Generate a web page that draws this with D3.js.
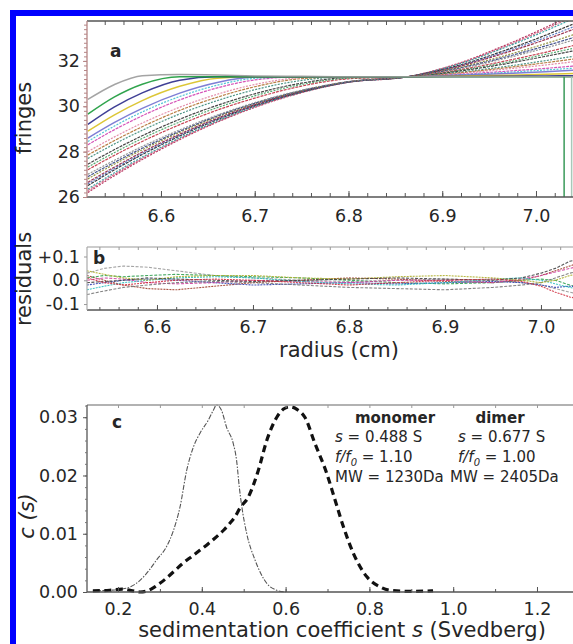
<!DOCTYPE html>
<html><head><meta charset="utf-8">
<script src="https://cdn.jsdelivr.net/npm/d3@7"></script>
<style>
body{margin:0;background:#fff;}
svg{display:block;}
text{font-family:"DejaVu Sans",sans-serif;fill:#262626;}
</style></head>
<body><svg id="chart" width="573" height="644"></svg>
<script>
// ---------------- DATA ----------------
// panel a: radial positions (cm) and fringe scans
const radiiA = [6.522, 6.55, 6.58, 6.62, 6.66, 6.70, 6.75, 6.80, 6.863, 6.92, 6.97, 7.01, 7.047];
const fringeScans = [
  [26.20, 26.93, 27.65, 28.53, 29.30, 29.95, 30.60, 31.06, 31.30, 31.93, 32.74, 33.47, 34.20],
  [26.28, 26.99, 27.70, 28.57, 29.32, 29.97, 30.61, 31.06, 31.30, 31.91, 32.69, 33.40, 34.10],
  [26.35, 27.06, 27.76, 28.61, 29.35, 29.99, 30.62, 31.06, 31.30, 31.89, 32.64, 33.32, 34.00],
  [26.50, 27.19, 27.87, 28.69, 29.41, 30.03, 30.64, 31.07, 31.30, 31.83, 32.51, 33.13, 33.75],
  [26.58, 27.25, 27.92, 28.73, 29.44, 30.05, 30.65, 31.07, 31.30, 31.80, 32.45, 33.03, 33.62],
  [26.65, 27.31, 27.98, 28.77, 29.47, 30.07, 30.66, 31.08, 31.30, 31.78, 32.39, 32.94, 33.50],
  [26.80, 27.44, 28.08, 28.85, 29.53, 30.11, 30.68, 31.08, 31.30, 31.73, 32.27, 32.76, 33.25],
  [26.90, 27.52, 28.15, 28.90, 29.57, 30.13, 30.69, 31.08, 31.30, 31.70, 32.20, 32.66, 33.12],
  [27.00, 27.61, 28.23, 28.96, 29.61, 30.16, 30.71, 31.09, 31.30, 31.67, 32.14, 32.57, 33.00],
  [27.20, 27.83, 28.45, 29.19, 29.83, 30.36, 30.89, 31.21, 31.30, 31.62, 32.02, 32.38, 32.75],
  [27.32, 27.95, 28.58, 29.31, 29.94, 30.46, 30.96, 31.24, 31.30, 31.59, 31.95, 32.29, 32.62],
  [27.45, 28.08, 28.70, 29.43, 30.04, 30.55, 31.02, 31.27, 31.30, 31.56, 31.89, 32.20, 32.50],
  [27.70, 28.33, 28.94, 29.66, 30.25, 30.73, 31.14, 31.30, 31.30, 31.51, 31.77, 32.01, 32.25],
  [27.85, 28.48, 29.10, 29.82, 30.40, 30.86, 31.22, 31.30, 31.30, 31.48, 31.71, 31.92, 32.12],
  [28.00, 28.64, 29.26, 29.96, 30.53, 30.96, 31.26, 31.30, 31.30, 31.45, 31.65, 31.82, 32.00],
  [28.30, 28.96, 29.58, 30.28, 30.81, 31.16, 31.30, 31.30, 31.30, 31.41, 31.55, 31.67, 31.80],
  [28.45, 29.12, 29.75, 30.43, 30.93, 31.23, 31.30, 31.30, 31.30, 31.39, 31.50, 31.60, 31.70],
  [28.60, 29.28, 29.91, 30.58, 31.05, 31.29, 31.30, 31.30, 31.30, 31.37, 31.45, 31.52, 31.60],
  [28.90, 29.61, 30.25, 30.88, 31.24, 31.30, 31.30, 31.30, 31.30, 31.33, 31.37, 31.41, 31.45],
  [29.20, 29.96, 30.59, 31.15, 31.30, 31.30, 31.30, 31.30, 31.30, 31.31, 31.32, 31.34, 31.35],
  [29.65, 30.40, 30.97, 31.30, 31.30, 31.30, 31.30, 31.30, 31.30, 31.30, 31.30, 31.30, 31.30],
  [30.30, 30.95, 31.35, 31.40, 31.38, 31.34, 31.32, 31.30, 31.30, 31.30, 31.30, 31.30, 31.30]
];
const scanColors = ["#b02050","#d06080","#2a9a9a","#222222","#5070c0","#902040","#8a8a30","#304080",
  "#888888","#c03040","#40a060","#333333","#3a8a7a","#b07030","#e080a0","#d040b0","#40c0d0",
  "#7070d0","#d8c020","#2a2a8a","#1a9a3a","#9a9a9a"];
const referenceRadius = [7.03, 7.038];
const plateauFringe = 31.3;

// panel b: residuals
const radiiB = [6.527, 6.545, 6.565, 6.59, 6.62, 6.66, 6.70, 6.75, 6.80, 6.85, 6.90, 6.95, 6.98, 7.0, 7.015, 7.03, 7.052];
const residualScans = [
  [0.03, 0.05, 0.06, 0.055, 0.04, 0.02, 0.01, 0.0, -0.005, 0.0, 0.005, 0.0, -0.01, -0.02, -0.035, -0.05, -0.07],
  [0.02, 0.0, -0.02, -0.035, -0.04, -0.025, -0.01, 0.0, 0.01, 0.005, -0.005, -0.01, 0.0, 0.02, 0.04, 0.06, 0.09],
  [0.01, 0.02, 0.015, 0.02, 0.025, 0.02, 0.015, 0.01, 0.0, -0.01, -0.015, -0.01, 0.0, 0.005, 0.0, -0.02, -0.04],
  [-0.02, -0.01, 0.0, 0.005, 0.0, -0.01, -0.02, -0.015, -0.01, -0.015, -0.01, -0.005, -0.01, -0.02, -0.03, -0.025, -0.03],
  [0.0, 0.01, 0.005, -0.01, -0.015, -0.01, 0.0, -0.005, -0.01, 0.0, 0.0, -0.01, 0.005, 0.02, 0.035, 0.05, 0.07],
  [-0.04, -0.025, -0.01, 0.0, 0.01, 0.015, 0.01, -0.005, -0.015, -0.02, -0.01, 0.005, 0.01, 0.0, -0.015, -0.03, -0.05],
  [-0.06, -0.045, -0.03, -0.02, -0.01, -0.005, -0.01, -0.02, -0.03, -0.035, -0.04, -0.03, -0.02, -0.01, 0.01, 0.03, 0.05],
  [0.04, 0.025, 0.01, 0.0, 0.015, 0.02, 0.02, 0.01, 0.005, 0.015, 0.02, 0.01, 0.0, -0.01, 0.0, 0.02, 0.04],
  [-0.01, -0.005, 0.0, 0.01, 0.005, 0.0, -0.005, 0.0, 0.005, 0.01, 0.005, 0.0, 0.01, 0.03, 0.05, 0.08, 0.10],
  [0.01, -0.01, -0.02, -0.01, 0.0, 0.005, 0.0, -0.01, -0.02, -0.01, 0.0, 0.005, -0.005, -0.025, -0.05, -0.07, -0.09]
];
const residualColors = ["#9a9a9a","#a04030","#30a050","#3040b0","#d040a0","#30c0c0","#777777","#b0b030","#444444","#d03040"];

// panel c: c(s) distributions
const sMono = [0.14,0.18,0.21,0.23,0.2525,0.275,0.292,0.316,0.332,0.348,0.364,0.38,0.396,0.4155,0.4275,0.4355,0.447,0.459,0.475,0.483,0.4895,0.495,0.507,0.527,0.555,0.579,0.60];
const cMono = [0.0002,0.0003,0.0005,0.0009,0.0020,0.0038,0.0055,0.0078,0.0105,0.0146,0.0209,0.0249,0.0273,0.0295,0.0312,0.0321,0.0312,0.0283,0.0255,0.0226,0.0180,0.0149,0.0101,0.0055,0.0015,0.0003,0.0000];
const sDimer = [0.14,0.18,0.21,0.235,0.2525,0.27,0.284,0.30,0.316,0.336,0.356,0.376,0.396,0.4155,0.4355,0.452,0.467,0.48,0.491,0.511,0.535,0.555,0.579,0.595,0.610,0.628,0.646,0.670,0.698,0.718,0.738,0.762,0.794,0.825,0.849,0.90,0.952];
const cDimer = [0.0002,0.0003,0.0005,0.0002,0.0000,0.0002,0.0007,0.0015,0.0024,0.0037,0.0050,0.0061,0.0072,0.0083,0.0095,0.0106,0.0118,0.0130,0.0144,0.0163,0.0209,0.0260,0.0300,0.0314,0.0318,0.0313,0.0300,0.0255,0.0204,0.0158,0.0112,0.0066,0.0026,0.0009,0.0003,0.0001,0.0002];

// tick labels
const ticksRadius = [6.6, 6.7, 6.8, 6.9, 7.0];
const ticksFringe = [26, 28, 30, 32];
const ticksResidual = [-0.1, 0.0, 0.1];
const ticksResidualLabels = ["-0.1", "0.0", "+0.1"];
const ticksS = [0.2, 0.4, 0.6, 0.8, 1.0, 1.2];
const ticksC = [0.00, 0.01, 0.02, 0.03];

// ---------------- DRAW ----------------
const svg = d3.select("#chart");
const defs = svg.append("defs");
function clip(id, x0, y0, x1, y1){
  defs.append("clipPath").attr("id", id).append("rect")
    .attr("x", x0).attr("y", y0).attr("width", x1 - x0).attr("height", y1 - y0);
}
const TICK = 17.5, TITLE = 21;

// blue border
svg.append("rect").attr("x",10).attr("y",10).attr("width",6).attr("height",634).attr("fill","#0000ff");
svg.append("rect").attr("x",10).attr("y",10).attr("width",563).attr("height",6).attr("fill","#0000ff");

function styleAxis(g, color){
  g.select(".domain").remove();
  g.selectAll("line").attr("stroke", color).attr("stroke-width", 1);
  g.selectAll("text").style("font-family", '"DejaVu Sans",sans-serif').style("font-size", TICK + "px").attr("fill", "#262626");
}

// ===== Panel a =====
const A = {l:87, t:21, r:590, b:197};
const xA = d3.scaleLinear().domain([6.5211, 7.0576]).range([A.l, A.r]);
const yA = d3.scaleLinear().domain([26, 33.76]).range([A.b, A.t]);
clip("clipA", A.l, A.t, A.r, A.b);

const gA = svg.append("g").attr("clip-path", "url(#clipA)");
const lineA = d3.line().x((d,i) => xA(radiiA[i])).y(d => yA(d)).curve(d3.curveMonotoneX);
fringeScans.forEach((scan, k) => {
  gA.append("path").attr("d", lineA(scan)).attr("fill","none")
    .attr("stroke", scanColors[k]).attr("stroke-width", k >= 17 ? 1.5 : 1.2)
    .attr("stroke-dasharray", k >= 17 ? null : (k % 2 ? "3,1" : "2,1.3"))
    .attr("opacity", 0.9);
});
referenceRadius.forEach((r, i) => {
  gA.append("line").attr("x1", xA(r)).attr("x2", xA(r))
    .attr("y1", yA(plateauFringe)).attr("y2", A.b)
    .attr("stroke", i === 0 ? "#3a9a5a" : "#a8c8b8").attr("stroke-width", 1.5);
});

// frame a
svg.append("line").attr("x1",A.l).attr("x2",A.r).attr("y1",A.t).attr("y2",A.t).attr("stroke","#555").attr("stroke-width",1.3);
svg.append("line").attr("x1",A.l).attr("x2",A.r).attr("y1",A.b).attr("y2",A.b).attr("stroke","#555").attr("stroke-width",1.3);
svg.append("line").attr("x1",A.l).attr("x2",A.l).attr("y1",A.t).attr("y2",A.b).attr("stroke","#b58585").attr("stroke-width",1.3);

// minor ticks a
svg.append("g").attr("transform",`translate(0,${A.b})`)
  .call(d3.axisBottom(xA).ticks(26).tickSizeInner(-4).tickSizeOuter(0).tickFormat(""))
  .call(g => styleAxis(g, "#555"));
svg.append("g").attr("transform",`translate(0,${A.t})`)
  .call(d3.axisTop(xA).ticks(26).tickSizeInner(-4).tickSizeOuter(0).tickFormat(""))
  .call(g => styleAxis(g, "#555"));
svg.append("g").attr("transform",`translate(${A.l},0)`)
  .call(d3.axisLeft(yA).ticks(30).tickSizeInner(3).tickSizeOuter(0).tickFormat(""))
  .call(g => styleAxis(g, "#b58585"));
// labelled axes a
svg.append("g").attr("transform",`translate(0,${A.b})`)
  .call(d3.axisBottom(xA).tickValues(ticksRadius).tickSizeInner(-6).tickSizeOuter(0).tickPadding(12.6).tickFormat(d3.format(".1f")))
  .call(g => styleAxis(g, "#555"));
svg.append("g").attr("transform",`translate(${A.l},0)`)
  .call(d3.axisLeft(yA).tickValues(ticksFringe).tickSizeInner(4).tickSizeOuter(0).tickPadding(3).tickFormat(d3.format("d")))
  .call(g => styleAxis(g, "#b58585"));

svg.append("text").attr("transform","translate(31,118) rotate(-90)").attr("text-anchor","middle")
  .style("font-size", TITLE + "px").text("fringes");
svg.append("text").attr("x",110).attr("y",57).style("font-size","17px").style("font-weight","bold").text("a");

// ===== Panel b =====
const B = {l:87, t:247, r:591, b:310};
const xB = d3.scaleLinear().domain([6.5271, 7.0521]).range([B.l, B.r]);
const yB = d3.scaleLinear().domain([-0.125, 0.14]).range([B.b, B.t]);
clip("clipB", B.l, B.t, B.r, B.b);
const gB = svg.append("g").attr("clip-path","url(#clipB)");
const lineB = d3.line().x((d,i) => xB(radiiB[i])).y(d => yB(d)).curve(d3.curveLinear);
residualScans.forEach((scan, k) => {
  gB.append("path").attr("d", lineB(scan)).attr("fill","none")
    .attr("stroke", residualColors[k]).attr("stroke-width", 1.1)
    .attr("stroke-dasharray", k % 2 ? "2,1" : "3,1.5").attr("opacity", 0.9);
});
svg.append("line").attr("x1",B.l).attr("x2",B.r).attr("y1",B.t).attr("y2",B.t).attr("stroke","#999").attr("stroke-width",1.2);
svg.append("line").attr("x1",B.l).attr("x2",B.r).attr("y1",B.b).attr("y2",B.b).attr("stroke","#555").attr("stroke-width",1.3);
svg.append("line").attr("x1",B.l).attr("x2",B.l).attr("y1",B.t).attr("y2",B.b).attr("stroke","#aaa").attr("stroke-width",1.2);
svg.append("g").attr("transform",`translate(0,${B.b})`)
  .call(d3.axisBottom(xB).ticks(26).tickSizeInner(-3).tickSizeOuter(0).tickFormat(""))
  .call(g => styleAxis(g, "#555"));
svg.append("g").attr("transform",`translate(0,${B.t})`)
  .call(d3.axisTop(xB).ticks(26).tickSizeInner(-3).tickSizeOuter(0).tickFormat(""))
  .call(g => styleAxis(g, "#999"));
svg.append("g").attr("transform",`translate(0,${B.b})`)
  .call(d3.axisBottom(xB).tickValues(ticksRadius).tickSizeInner(-5).tickSizeOuter(0).tickPadding(10.6).tickFormat(d3.format(".1f")))
  .call(g => styleAxis(g, "#555"));
svg.append("g").attr("transform",`translate(${B.l},0)`)
  .call(d3.axisLeft(yB).tickValues(ticksResidual).tickSizeInner(3).tickSizeOuter(0).tickPadding(4).tickFormat((d,i) => ticksResidualLabels[i]))
  .call(g => styleAxis(g, "#999"));
svg.append("text").attr("transform","translate(31,279) rotate(-90)").attr("text-anchor","middle")
  .style("font-size", TITLE + "px").text("residuals");
svg.append("text").attr("x",339).attr("y",357).attr("text-anchor","middle")
  .style("font-size", TITLE + "px").text("radius (cm)");
svg.append("text").attr("x",93).attr("y",264).style("font-size","17px").style("font-weight","bold").text("b");

// ===== Panel c =====
const C = {l:87, t:405, r:590, b:592};
const xC = d3.scaleLinear().domain([0.126, 1.3265]).range([C.l, C.r]);
const yC = d3.scaleLinear().domain([0, 0.0321]).range([C.b, C.t]);
clip("clipC", C.l, C.t - 3, C.r, C.b + 2);
const gC = svg.append("g").attr("clip-path","url(#clipC)");
gC.append("path")
  .attr("d", d3.line().x((d,i) => xC(sMono[i])).y(d => yC(d)).curve(d3.curveMonotoneX)(cMono))
  .attr("fill","none").attr("stroke","#555").attr("stroke-width",1.1).attr("stroke-dasharray","5,1.5,1.5,1.5");
gC.append("path")
  .attr("d", d3.line().x((d,i) => xC(sDimer[i])).y(d => yC(d)).curve(d3.curveMonotoneX)(cDimer))
  .attr("fill","none").attr("stroke","#111").attr("stroke-width",3.2).attr("stroke-dasharray","7,4.5");

svg.append("line").attr("x1",C.l).attr("x2",C.r).attr("y1",C.t).attr("y2",C.t).attr("stroke","#999").attr("stroke-width",1.3);
svg.append("line").attr("x1",C.l).attr("x2",C.r).attr("y1",C.b).attr("y2",C.b).attr("stroke","#555").attr("stroke-width",1.3);
svg.append("line").attr("x1",C.l).attr("x2",C.l).attr("y1",C.t).attr("y2",C.b).attr("stroke","#555").attr("stroke-width",1.3);
svg.append("g").attr("transform",`translate(0,${C.t})`)
  .call(d3.axisTop(xC).ticks(12).tickSizeInner(-3).tickSizeOuter(0).tickFormat(""))
  .call(g => styleAxis(g, "#999"));
svg.append("g").attr("transform",`translate(0,${C.b})`)
  .call(d3.axisBottom(xC).ticks(12).tickSizeInner(-3).tickSizeOuter(0).tickFormat(""))
  .call(g => styleAxis(g, "#555"));
svg.append("g").attr("transform",`translate(${C.l},0)`)
  .call(d3.axisLeft(yC).ticks(16).tickSizeInner(2).tickSizeOuter(0).tickFormat(""))
  .call(g => styleAxis(g, "#777"));
svg.append("g").attr("transform",`translate(0,${C.b})`)
  .call(d3.axisBottom(xC).tickValues(ticksS).tickSizeInner(-5).tickSizeOuter(0).tickPadding(10.6).tickFormat(d3.format(".1f")))
  .call(g => styleAxis(g, "#555"));
svg.append("g").attr("transform",`translate(${C.l},0)`)
  .call(d3.axisLeft(yC).tickValues(ticksC).tickSizeInner(4).tickSizeOuter(0).tickPadding(5).tickFormat(d3.format(".2f")))
  .call(g => styleAxis(g, "#555"));

const yTitle = svg.append("text").attr("transform","translate(34,516) rotate(-90)").attr("text-anchor","middle")
  .style("font-size", TITLE + "px").style("font-style","italic");
yTitle.text("c (s)");
const xTitle = svg.append("text").attr("x",342).attr("y",637).attr("text-anchor","middle").style("font-size", TITLE + "px");
xTitle.append("tspan").text("sedimentation coefficient ");
xTitle.append("tspan").style("font-style","italic").text("s");
xTitle.append("tspan").text(" (Svedberg)");
svg.append("text").attr("x",112).attr("y",428).style("font-size","17px").style("font-weight","bold").text("c");

// annotation block
const ann = [
  {x:395, head:"monomer", s:"0.488", f:"1.10", mw:"1230Da", xs:335, xm:335},
  {x:500, head:"dimer", s:"0.677", f:"1.00", mw:"2405Da", xs:458, xm:450}
];
ann.forEach(a => {
  svg.append("text").attr("x",a.x).attr("y",423).attr("text-anchor","middle")
    .style("font-size","15px").style("font-weight","bold").text(a.head);
  const t1 = svg.append("text").attr("x",a.xs).attr("y",442).style("font-size","15px");
  t1.append("tspan").style("font-style","italic").text("s");
  t1.append("tspan").text(" = " + a.s + " S");
  const t2 = svg.append("text").attr("x",a.xs).attr("y",462).style("font-size","15px");
  t2.append("tspan").style("font-style","italic").text("f/f");
  t2.append("tspan").style("font-style","italic").style("font-size","10px").attr("dy",4).text("0");
  t2.append("tspan").attr("dy",-4).text(" = " + a.f);
  svg.append("text").attr("x",a.xm).attr("y",482).style("font-size","15px").text("MW = " + a.mw);
});
</script>
</body></html>
